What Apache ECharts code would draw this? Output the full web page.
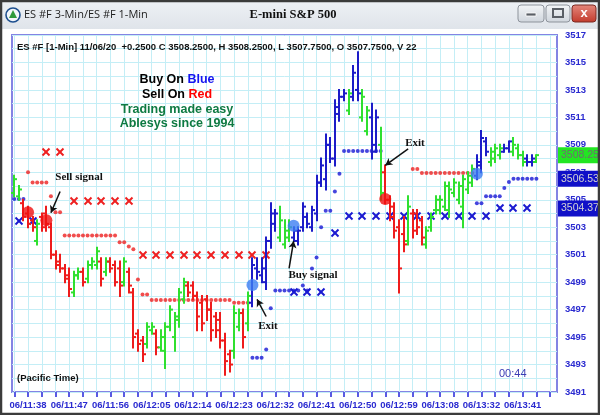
<!DOCTYPE html>
<html><head><meta charset="utf-8">
<script src="https://cdn.jsdelivr.net/npm/echarts@6/dist/echarts.min.js"></script>
<style>html,body{margin:0;padding:0;background:#fff}#c{width:600px;height:415px}</style>
</head><body><div id="c"></div>
<script>
// ---------- data ----------
const open  = [3505.5,3505.25,3504.75,3504.0,3503.5,3502.0,3503.75,3504.0,3503.0,3501.0,3500.5,3500.0,3499.5,3498.25,3499.5,3499.75,3499.25,3500.25,3500.25,3500.5,3499.75,3500.5,3500.25,3500.0,3499.0,3499.75,3498.25,3495.25,3494.75,3494.5,3495.5,3495.25,3494.25,3494.0,3495.75,3495.0,3496.25,3497.75,3498.75,3498.75,3498.0,3497.5,3497.75,3497.0,3496.5,3496.25,3494.75,3493.75,3494.0,3495.75,3496.75,3496.0,3497.5,3500.0,3499.5,3499.0,3502.0,3503.25,3502.25,3501.75,3502.25,3502.25,3502.0,3503.0,3503.75,3503.0,3504.0,3506.25,3506.5,3509.0,3508.0,3511.25,3512.5,3511.5,3512.5,3513.0,3511.0,3510.0,3511.0,3509.0,3509.0,3507.0,3505.0,3504.5,3503.0,3502.5,3502.0,3504.0,3504.0,3503.5,3501.75,3503.0,3504.25,3504.25,3504.5,3504.25,3505.5,3505.0,3504.5,3505.75,3506.25,3506.75,3507.5,3509.25,3507.75,3508.0,3508.25,3508.5,3508.75,3508.5,3508.75,3508.25,3508.0,3507.75,3507.75];
const high  = [3506.75,3506.0,3505.0,3504.5,3503.75,3503.5,3504.0,3504.5,3503.25,3501.25,3501.0,3500.25,3500.0,3499.75,3500.0,3500.0,3500.5,3500.75,3501.5,3500.75,3500.75,3500.75,3500.5,3500.5,3500.75,3500.0,3498.5,3495.5,3495.0,3496.0,3496.0,3495.5,3495.5,3496.0,3497.25,3496.75,3498.5,3499.25,3499.0,3499.0,3498.25,3498.0,3498.0,3497.5,3496.75,3496.75,3495.25,3494.0,3497.25,3497.0,3497.0,3498.25,3500.75,3500.75,3500.75,3502.25,3504.75,3504.25,3504.5,3503.5,3503.5,3503.0,3503.0,3504.75,3504.0,3504.5,3506.75,3508.0,3509.75,3509.5,3512.25,3513.0,3513.0,3513.0,3514.75,3515.75,3513.0,3511.75,3512.0,3511.5,3510.25,3507.5,3505.25,3504.75,3503.5,3503.75,3505.25,3504.25,3504.25,3503.75,3503.0,3504.0,3505.25,3505.25,3506.25,3506.25,3506.5,3506.25,3506.75,3507.0,3507.5,3508.25,3510.0,3509.5,3508.75,3509.0,3509.0,3509.0,3509.25,3509.5,3509.0,3508.5,3508.25,3508.25,3508.25];
const low   = [3505.25,3505.0,3503.5,3503.0,3502.75,3501.75,3502.75,3502.75,3500.75,3500.0,3499.75,3499.0,3498.0,3498.0,3499.25,3498.75,3499.0,3500.0,3500.0,3498.75,3499.5,3499.75,3498.75,3498.0,3498.75,3498.25,3494.25,3494.0,3493.25,3494.25,3495.25,3493.75,3494.0,3492.75,3495.5,3494.0,3495.75,3497.5,3498.0,3497.75,3495.5,3495.5,3496.25,3494.75,3495.0,3494.25,3492.25,3492.5,3493.5,3495.5,3494.25,3495.5,3497.25,3499.25,3499.0,3498.5,3501.5,3502.75,3502.0,3501.5,3502.0,3502.0,3501.75,3502.75,3503.0,3502.75,3503.5,3506.0,3505.75,3507.75,3507.5,3510.75,3512.25,3511.25,3512.25,3512.25,3510.75,3509.75,3508.0,3508.5,3505.0,3504.75,3503.5,3502.25,3498.25,3501.25,3501.75,3502.25,3502.5,3501.75,3501.5,3502.75,3504.0,3504.0,3504.25,3503.75,3505.25,3504.75,3503.0,3505.5,3506.0,3506.5,3507.0,3508.25,3507.5,3507.75,3508.0,3508.5,3508.5,3508.25,3508.0,3507.5,3507.5,3507.5,3507.75];
const close = [3506.5,3505.75,3503.75,3503.25,3503.0,3503.25,3503.0,3503.25,3501.0,3500.25,3500.0,3499.25,3498.5,3499.5,3499.75,3499.0,3500.25,3500.5,3501.25,3499.25,3500.5,3500.0,3499.0,3498.75,3500.5,3498.75,3495.0,3494.5,3493.75,3495.75,3495.75,3494.25,3495.0,3495.75,3497.0,3496.5,3498.25,3499.0,3498.25,3498.0,3496.5,3496.0,3497.0,3495.5,3495.5,3494.75,3493.25,3493.0,3496.75,3496.75,3495.0,3498.0,3500.25,3499.75,3500.0,3502.0,3504.0,3504.0,3503.5,3502.75,3503.0,3502.75,3502.75,3504.5,3503.25,3504.25,3506.25,3507.5,3509.0,3508.0,3511.75,3512.5,3512.75,3512.75,3514.25,3512.75,3512.5,3511.5,3508.5,3511.0,3505.5,3505.0,3503.75,3502.75,3500.0,3501.75,3504.5,3502.75,3503.0,3502.25,3502.75,3503.75,3505.0,3505.0,3506.0,3505.75,3506.25,3506.0,3506.5,3506.75,3507.25,3507.75,3509.5,3508.5,3508.5,3508.75,3508.75,3508.75,3509.25,3509.0,3508.25,3507.75,3507.75,3508.0,3508.25];
// trend state of every bar: G = neutral/green, B = buy (blue), R = sell (red)
const barState = 'GGRRRGRRRRRRRGGRGGGRGRRRGRRRRGGRGGGGGGRRRRRRRRRRGGRGBBBBBBGGGBBBBBBBBBBBBGBBGGBBGRRRRRGRRRGGGGGGGGGGGBBBGGGBBGGGBBG'.split('');
const redStop  = {3:3507.0,4:3506.25,5:3506.25,6:3506.25,7:3506.25,8:3505.25,9:3504.1,10:3504.1,11:3502.4,12:3502.4,13:3502.4,14:3502.4,15:3502.4,16:3502.4,17:3502.4,18:3502.4,19:3502.4,20:3502.4,21:3502.4,22:3502.4,23:3501.9,24:3501.9,25:3501.6,26:3501.4,27:3499.2,28:3498.1,29:3498.1,30:3497.7,31:3497.7,32:3497.7,33:3497.7,34:3497.7,35:3497.7,36:3497.7,37:3497.7,38:3497.7,39:3497.7,40:3497.7,41:3497.7,42:3497.7,43:3497.7,44:3497.7,45:3497.7,46:3497.7,47:3497.7,48:3497.5,49:3497.5,50:3497.5,51:3497.5,87:3507.25,88:3507.25,89:3506.95,90:3506.95,91:3506.95,92:3506.95,93:3506.95,94:3506.95,95:3506.95,96:3506.95,97:3506.95,98:3506.95,99:3506.95,100:3506.95};
const blueStop = {0:3505.05,1:3505.05,2:3505.05,52:3493.5,53:3493.5,54:3493.5,55:3494.1,56:3497.1,57:3498.4,58:3498.4,59:3498.4,60:3498.4,61:3498.4,62:3498.4,63:3498.75,64:3498.4,65:3500.0,66:3500.8,67:3503.0,68:3504.2,69:3504.2,70:3505.6,71:3506.9,72:3508.55,73:3508.55,74:3508.55,75:3508.55,76:3508.55,77:3508.55,78:3508.55,79:3508.55,80:3508.55,101:3504.75,102:3504.75,103:3505.25,104:3505.25,105:3505.25,106:3505.25,107:3505.85,108:3506.3,109:3506.53,110:3506.53,111:3506.53,112:3506.53,113:3506.53,114:3506.53};
const redX  = {7:3508.5,10:3508.5,13:3504.9,16:3504.9,19:3504.9,22:3504.9,25:3504.9,28:3501.0,31:3501.0,34:3501.0,37:3501.0,40:3501.0,43:3501.0,46:3501.0,49:3501.0,52:3501.0,55:3501.0};
const blueX = {1:3503.45,4:3503.45,61:3498.3,64:3498.3,67:3498.3,70:3502.6,73:3503.8,76:3503.8,79:3503.8,82:3503.8,85:3503.8,88:3503.8,91:3503.8,94:3503.8,97:3503.8,100:3503.8,103:3503.8,106:3504.37,109:3504.37,112:3504.37};
const signals = [[3,3504.1,'R'],[7,3503.5,'R'],[52,3498.8,'B'],[61,3503.1,'B'],[81,3505.05,'R'],[101,3506.9,'B']];
const arrows = [[10,3505.6,8,3504.05],[55,3496.5,53,3497.75],[60,3500.0,61,3502.0],[86,3508.7,81,3507.5]];
const lastPrices = [[3508.25,'G'],[3506.53,'B'],[3504.37,'B']];
const yMin = 3491, yMax = 3517;
// time categories (a data gap between 13:08 and 13:24)
const categories = [];
for (let i = 0; i < 119; i++) {
  const m = i <= 93 ? 11*60+35+i : 13*60+24+(i-94);
  const p = n => (n < 10 ? '0' : '') + n;
  categories.push('06/' + p(Math.floor(m/60)) + ':' + p(m%60));
}
// ---------- styles ----------
const COL = {G:'#2fe02f', B:'#1c1cc8', R:'#ee1c1c'};
const SIG = {R:'#f01010', B:'#3d7ef2'};
const toPts = o => Object.keys(o).map(k => [Number(k), o[k]]);

const chart = echarts.init(document.getElementById('c'), null, {renderer:'canvas'});
const xMark = color => (params, api) => {
  const p = api.coord([api.value(0), api.value(1)]);
  const x = Math.round(p[0]), y = Math.round(p[1]), r = 3.5;
  return {type:'group', children:[
    {type:'line', shape:{x1:x-r,y1:y-r,x2:x+r,y2:y+r}, style:{stroke:color, lineWidth:2}},
    {type:'line', shape:{x1:x-r,y1:y+r,x2:x+r,y2:y-r}, style:{stroke:color, lineWidth:2}}
  ]};
};
const SANS = 'Liberation Sans, Arial, sans-serif';
const SERIF = 'Liberation Serif, Times New Roman, serif';

chart.setOption({
  animation:false,
  backgroundColor:'#ffffff',
  grid:{left:12, top:35, width:545, height:357, show:true, borderColor:'#8484e4', borderWidth:2, backgroundColor:'#ffffff'},
  xAxis:{type:'category', data:categories, boundaryGap:true,
    axisLine:{show:false},
    axisTick:{show:true, alignWithLabel:true, interval:(i)=>i%3===0, length:5, lineStyle:{color:'#5a5ae2', width:2}},
    axisLabel:{interval:(i)=>i%9===3, color:'#2a2ad0', fontSize:9.5, fontWeight:'bold', fontFamily:SANS, margin:8},
    splitLine:{show:true, alignWithLabel:true, interval:(i)=>i%3===0, lineStyle:{color:'#c4eef6', width:1}}
  },
  yAxis:{type:'value', position:'right', min:yMin, max:yMax, interval:1,
    axisLine:{show:false}, axisTick:{show:false},
    axisLabel:{color:'#2a2ad0', fontSize:9.5, fontWeight:'bold', fontFamily:SANS, margin:8,
      formatter:v => ((v - yMin) % 2 === 0 ? String(v) : '')},
    splitLine:{show:true, lineStyle:{color:'#c4eef6', width:1}}
  },
  series:[
    {type:'scatter', data:toPts(redStop), symbolSize:4, itemStyle:{color:'#ee2020'}, z:3},
    {type:'scatter', data:toPts(blueStop), symbolSize:4, itemStyle:{color:'#1616d4'}, z:3},
    {type:'custom', data:toPts(redX), renderItem:xMark('#ee2020'), z:3},
    {type:'custom', data:toPts(blueX), renderItem:xMark('#1a1ad0'), z:3},
    {type:'custom', z:4,
      data:open.map((o,i)=>[i,o,high[i],low[i],close[i]]),
      encode:{x:0, y:[1,2,3,4]},
      renderItem:(params, api) => {
        const i = api.value(0);
        const o = api.coord([i, api.value(1)]), h = api.coord([i, api.value(2)]);
        const l = api.coord([i, api.value(3)]), c = api.coord([i, api.value(4)]);
        const col = COL[barState[params.dataIndex]];
        const x = Math.round(o[0]);
        return {type:'group', children:[
          {type:'line', shape:{x1:x,y1:h[1]-1,x2:x,y2:l[1]+1}, style:{stroke:col, lineWidth:2}},
          {type:'line', shape:{x1:x-3,y1:o[1],x2:x,y2:o[1]}, style:{stroke:col, lineWidth:2}},
          {type:'line', shape:{x1:x,y1:c[1],x2:x+3,y2:c[1]}, style:{stroke:col, lineWidth:2}}
        ]};
      }
    },
    {type:'scatter', z:5, data:signals.map(s=>({value:[s[0],s[1]], itemStyle:{color:SIG[s[2]]}})), symbolSize:12},
    {type:'scatter', z:6, data:[], 
      markLine:{silent:true, symbol:['none','arrow'], symbolSize:[6,7], animation:false,
        lineStyle:{color:'#111', width:1.5, type:'solid'}, label:{show:false},
        data:arrows.map(a => [{coord:[a[0],a[1]]},{coord:[a[2],a[3]]}])}
    },
    {type:'scatter', z:7, data:[],
      markLine:{silent:true, symbol:'none', animation:false,
        lineStyle:{color:'rgba(0,0,0,0)', width:1, type:'solid'},
        label:{show:true, position:'end', distance:1, fontSize:10.5, fontFamily:SANS, padding:[3,4,2,3]},
        data:lastPrices.map(([v,s]) => ({yAxis:v, label:{show:true, formatter:v.toFixed(2),
          backgroundColor: s==='G' ? '#22e622' : '#1010c8', color: s==='G' ? '#6e6e6e' : '#d4d4d4'}}))
      }
    }
  ],
  graphic:[
    // title bar
    {type:'rect', z:100, shape:{x:0,y:0,width:600,height:29}, style:{fill:new echarts.graphic.LinearGradient(0,0,0,1,[{offset:0,color:'#eef1f5'},{offset:1,color:'#dfe4ea'}])}},
    {type:'circle', z:101, shape:{cx:13,cy:15,r:7}, style:{fill:'#f2f6fb', stroke:'#1d4f8f', lineWidth:1.6}},
    {type:'polygon', z:102, shape:{points:[[13,10],[17,18],[9,18]]}, style:{fill:'#2f9a3c'}},
    {type:'text', z:101, x:24, y:15, style:{text:'ES #F 3-Min/ES #F 1-Min', font:'11px Open Sans, sans-serif', fill:'#1e1e1e', verticalAlign:'middle'}},
    {type:'text', z:101, x:293, y:15, style:{text:'E-mini S&P 500', font:'bold 12.5px '+SERIF, fill:'#111', align:'center', verticalAlign:'middle'}},
    {type:'rect', z:101, shape:{x:518,y:5,width:26,height:17,r:3}, style:{fill:new echarts.graphic.LinearGradient(0,0,0,1,[{offset:0,color:'#f4f6f8'},{offset:1,color:'#cfd5dc'}]), stroke:'#8d939b', lineWidth:1}},
    {type:'rect', z:102, shape:{x:526,y:13,width:10,height:3}, style:{fill:'#5a5f66', stroke:'#fff', lineWidth:0.8}},
    {type:'rect', z:101, shape:{x:546,y:5,width:24,height:17,r:3}, style:{fill:new echarts.graphic.LinearGradient(0,0,0,1,[{offset:0,color:'#f4f6f8'},{offset:1,color:'#cfd5dc'}]), stroke:'#8d939b', lineWidth:1}},
    {type:'rect', z:102, shape:{x:553,y:9,width:10,height:8}, style:{fill:'none', stroke:'#5a5f66', lineWidth:2}},
    {type:'rect', z:101, shape:{x:572,y:5,width:24,height:17,r:3}, style:{fill:new echarts.graphic.LinearGradient(0,0,0,1,[{offset:0,color:'#e5887c'},{offset:1,color:'#c23a2c'}]), stroke:'#7b2a22', lineWidth:1}},
    {type:'text', z:102, x:584, y:13.5, style:{text:'x', font:'bold 13px '+SANS, fill:'#ffffff', align:'center', verticalAlign:'middle'}},
    // window frame
    {type:'rect', z:110, shape:{x:1,y:1,width:598,height:413}, style:{fill:'none', stroke:'#3b3b3b', lineWidth:2.5}},
    // chart texts
    {type:'text', z:50, x:17, y:47, style:{text:'ES #F [1-Min] 11/06/20  +0.2500 C 3508.2500, H 3508.2500, L 3507.7500, O 3507.7500, V 22', font:'bold 9.5px '+SANS, fill:'#111', verticalAlign:'middle'}},
    {type:'text', z:50, x:177, y:80, style:{text:'{k|Buy On }{b|Blue}', align:'center', verticalAlign:'middle', rich:{k:{font:'bold 12.5px '+SANS, fill:'#000'}, b:{font:'bold 12.5px '+SANS, fill:'#1414f0'}}}},
    {type:'text', z:50, x:177, y:95, style:{text:'{k|Sell On }{r|Red}', align:'center', verticalAlign:'middle', rich:{k:{font:'bold 12.5px '+SANS, fill:'#000'}, r:{font:'bold 12.5px '+SANS, fill:'#ff0000'}}}},
    {type:'text', z:50, x:177, y:109.5, style:{text:'Trading made easy', font:'bold 12.5px '+SANS, fill:'#0e7a42', align:'center', verticalAlign:'middle'}},
    {type:'text', z:50, x:177, y:124, style:{text:'Ablesys since 1994', font:'bold 12.5px '+SANS, fill:'#0e7a42', align:'center', verticalAlign:'middle'}},
    {type:'text', z:50, x:79, y:177, style:{text:'Sell signal', font:'bold 11px '+SERIF, fill:'#111', align:'center', verticalAlign:'middle'}},
    {type:'text', z:50, x:268, y:326, style:{text:'Exit', font:'bold 11px '+SERIF, fill:'#111', align:'center', verticalAlign:'middle'}},
    {type:'text', z:50, x:313, y:275, style:{text:'Buy signal', font:'bold 11px '+SERIF, fill:'#111', align:'center', verticalAlign:'middle'}},
    {type:'text', z:50, x:415, y:143, style:{text:'Exit', font:'bold 11px '+SERIF, fill:'#111', align:'center', verticalAlign:'middle'}},
    {type:'text', z:50, x:17, y:378, style:{text:'(Pacific Time)', font:'bold 9.5px '+SANS, fill:'#111', verticalAlign:'middle'}},
    {type:'text', z:50, x:499, y:374, style:{text:'00:44', font:'11px '+SANS, fill:'#3c3cb4', verticalAlign:'middle'}}
  ]
});
</script></body></html>
